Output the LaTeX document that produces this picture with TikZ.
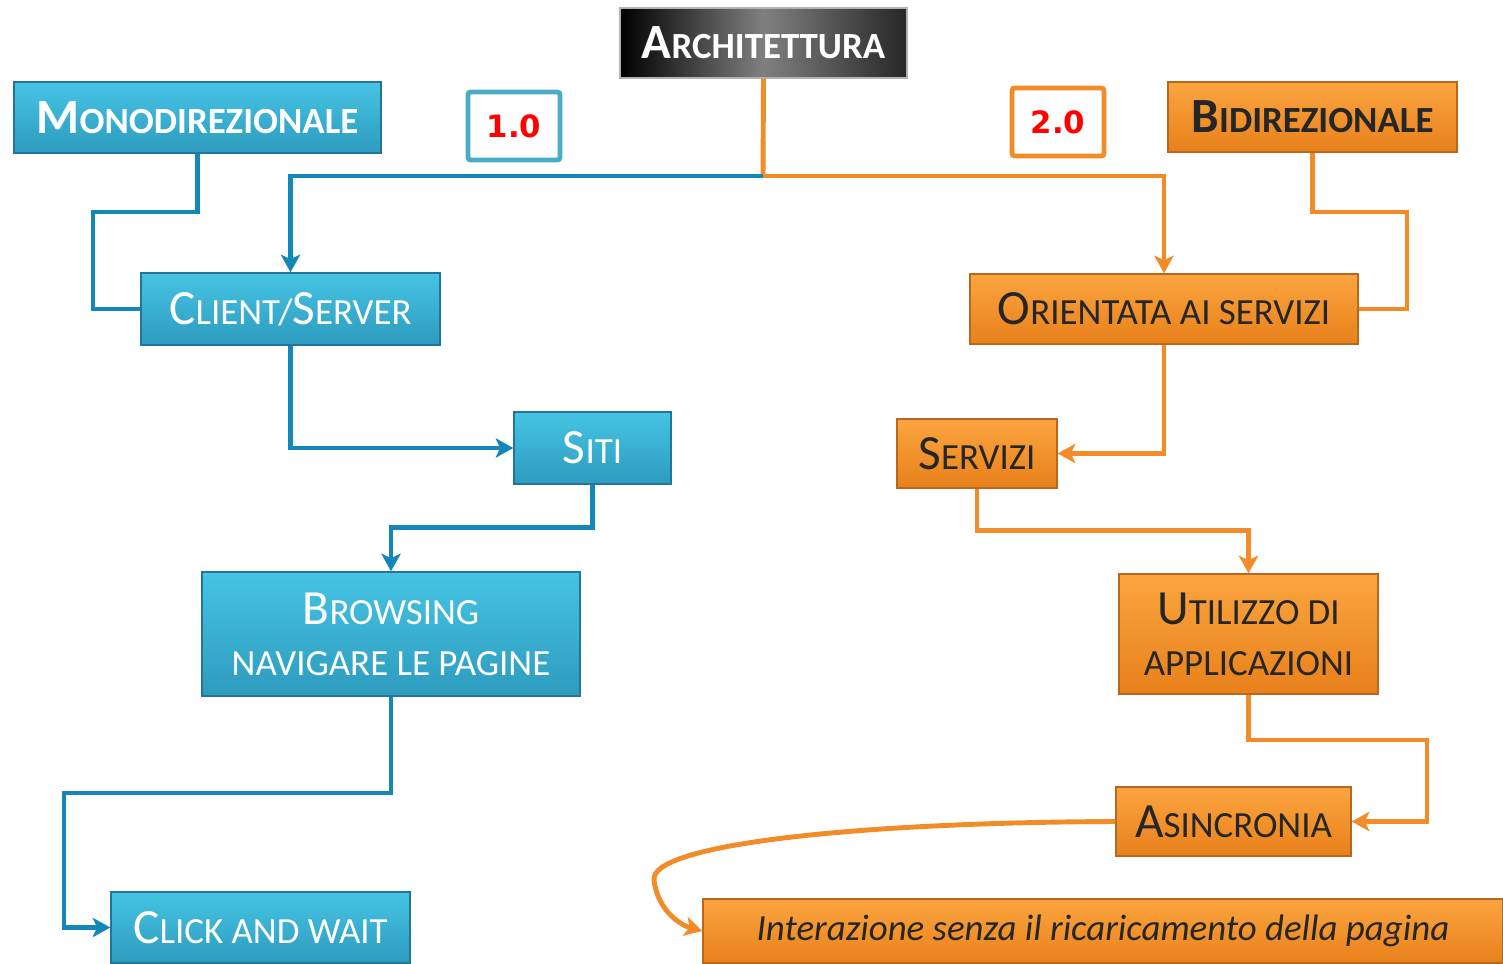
\documentclass[tikz,border=0pt]{standalone}
\usepackage{fontspec}
\setmainfont{Carlito}
\newfontfamily\numfont{DejaVu Sans}
\usepackage{xcolor}
\usetikzlibrary{positioning,arrows.meta}

\definecolor{bluetop}{HTML}{46C4E4}
\definecolor{bluebot}{HTML}{2D9BBE}
\definecolor{blueedge}{HTML}{23769A}
\definecolor{blueline}{HTML}{1287B8}
\definecolor{orgtop}{HTML}{FBA540}
\definecolor{orgbot}{HTML}{E8801A}
\definecolor{orgedge}{HTML}{B8681C}
\definecolor{orgline}{HTML}{F28C28}
\definecolor{frameblue}{HTML}{4BACC6}
\definecolor{txtdark}{HTML}{262626}

% fake small caps: big first letter, smaller rest
\newcommand{\bigsc}[2]{{\fontsize{28}{30}\selectfont #1}{\fontsize{21}{30}\selectfont #2}}
\newcommand{\smsc}[1]{{\fontsize{21}{30}\selectfont #1}}

\begin{document}
\begin{tikzpicture}
\useasboundingbox (0,0) rectangle (30.06,-19.26);
\tikzstyle{box}=[rectangle,inner sep=0pt,align=center,line width=0.8pt,font=\fontsize{21}{29}\selectfont]
\tikzstyle{bluebox}=[box,top color=bluetop,bottom color=bluebot,draw=blueedge,text=white]
\tikzstyle{orgbox}=[box,top color=orgtop,bottom color=orgbot,draw=orgedge,text=txtdark]
\tikzstyle{verbox}=[rectangle,rounded corners=1.5pt,line width=2.8pt,fill=white,
  minimum width=1.84cm,minimum height=1.36cm,text=red,font=\numfont\bfseries\fontsize{17.5}{20}\selectfont]
\tikzstyle{bline}=[blueline,line width=2.8pt]
\tikzstyle{oline}=[orgline,line width=2.8pt]
\tikzstyle{tip}=[-{Stealth[length=10pt,width=11pt,inset=2.5pt]}]

\draw node[box,left color=black,right color=black!85,middle color=gray,draw=gray!60,text=white,
  minimum width=5.74cm,minimum height=1.40cm] (arch) at (15.27,-0.86) {\bfseries\bigsc{A}{RCHITETTURA}};

\draw node[verbox,draw=frameblue] (v1) at (10.28,-2.52) {1.0};
\draw node[verbox,draw=orgline] (v2) at (21.16,-2.44) {2.0};

\draw node[bluebox,minimum width=7.34cm,minimum height=1.42cm] (mono) at (3.95,-2.35) {\bfseries\bigsc{M}{ONODIREZIONALE}};
\draw node[orgbox,minimum width=5.78cm,minimum height=1.40cm] (bidi) at (26.25,-2.34) {\bfseries\bigsc{B}{IDIREZIONALE}};

\draw node[bluebox,minimum width=5.98cm,minimum height=1.44cm] (cs) at (5.81,-6.18) {\bigsc{C}{LIENT/}\bigsc{S}{ERVER}};
\draw node[orgbox,minimum width=7.76cm,minimum height=1.40cm] (soa) at (23.28,-6.18) {\bigsc{O}{RIENTATA AI SERVIZI}};

\draw node[bluebox,minimum width=3.14cm,minimum height=1.44cm] (siti) at (11.85,-8.96) {\bigsc{S}{ITI}};
\draw node[orgbox,minimum width=3.20cm,minimum height=1.38cm] (serv) at (19.54,-9.07) {\bigsc{S}{ERVIZI}};

\draw node[bluebox,minimum width=7.56cm,minimum height=2.48cm] (brow) at (7.82,-12.68) {\bigsc{B}{ROWSING}\\\smsc{NAVIGARE LE PAGINE}};
\draw node[orgbox,minimum width=5.18cm,minimum height=2.40cm] (util) at (24.97,-12.68) {\bigsc{U}{TILIZZO DI}\\\smsc{APPLICAZIONI}};

\draw node[orgbox,minimum width=4.70cm,minimum height=1.38cm] (asin) at (24.67,-16.43) {\bigsc{A}{SINCRONIA}};
\draw node[bluebox,minimum width=5.98cm,minimum height=1.42cm] (click) at (5.21,-18.55) {\bigsc{C}{LICK AND WAIT}};
\draw node[orgbox,minimum width=16.0cm,minimum height=1.28cm,font=\itshape\fontsize{21}{24}\selectfont] (inter) at (22.06,-18.62) {Interazione senza il ricaricamento della pagina};

\coordinate (j) at (15.26,-3.52);

\draw[oline] (arch.south) -- (j);
\draw[bline,tip] (j) -| (cs.north);
\draw[oline,tip] (j) -| (soa.north);

\draw[bline] (mono.south) |- (1.86,-4.24) |- (cs.west);
\draw[oline] (bidi.south) |- (28.14,-4.24) |- (soa.east);

\draw[bline,tip] (cs.south) |- (siti.west);
\draw[bline,tip] (siti.south) -- ++(0,-0.86) -| (brow.north);
\draw[bline,tip] (brow.south) |- (1.28,-15.86) |- (click.west);

\draw[oline,tip] (soa.south) |- (serv.east);
\draw[oline,tip] (serv.south) -- ++(0,-0.84) -| (util.north);
\draw[oline,tip] (util.south) |- (28.54,-14.80) |- (asin.east);
\draw[oline,tip] (asin.west) .. controls (17,-16.45) and (13.0,-16.9) .. (13.08,-17.6)
  .. controls (13.15,-18.2) and (13.6,-18.5) .. (inter.west);
\end{tikzpicture}
\end{document}
